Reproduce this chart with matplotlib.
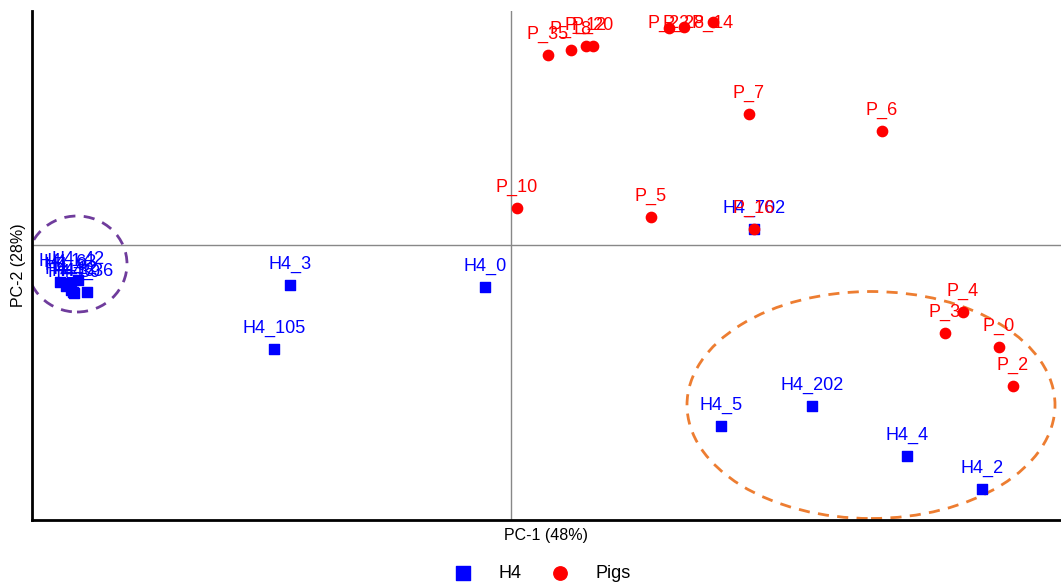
import matplotlib.pyplot as plt
from matplotlib.patches import Ellipse

plt.rcParams['font.family'] = ['Liberation Sans', 'DejaVu Sans']

# PCA scores (PC-1, PC-2)
h4_names = ['H4_1', 'H4_9', 'H4_12', 'H4_39', 'H4_63', 'H4_6', 'H4_36', 'H4_42',
            'H4_3', 'H4_0', 'H4_105', 'H4_702', 'H4_202', 'H4_5', 'H4_4', 'H4_2']
h4_pc1 = [-4.51, -4.45, -4.40, -4.37, -4.41, -4.38, -4.24, -4.33,
          -2.21, -0.26, -2.37, 2.43, 3.01, 2.10, 3.96, 4.71]
h4_pc2 = [-0.37, -0.41, -0.45, -0.48, -0.38, -0.47, -0.47, -0.35,
          -0.40, -0.42, -1.04, 0.16, -1.61, -1.81, -2.11, -2.44]

pig_names = ['P_35', 'P_18', 'P_12', 'P_20', 'P_22', 'P_28', 'P_14', 'P_7', 'P_6',
             'P_10', 'P_5', 'P_16', 'P_4', 'P_3', 'P_0', 'P_2']
pig_pc1 = [0.37, 0.60, 0.75, 0.82, 1.58, 1.73, 2.02, 2.38, 3.71,
           0.06, 1.40, 2.43, 4.52, 4.34, 4.88, 5.02]
pig_pc2 = [1.90, 1.95, 1.99, 1.99, 2.17, 2.18, 2.23, 1.31, 1.14,
           0.37, 0.28, 0.16, -0.67, -0.88, -1.02, -1.41]

y_lo, y_hi = -2.75, 2.34
lab_dy = 0.21
lab_top = y_hi - 0.12  # keep labels inside the panel

fig, ax = plt.subplots(figsize=(10.61, 5.87), dpi=100)
fig.subplots_adjust(left=32/1061, right=1.0, bottom=67/587, top=576/587)

ax.axhline(0, color='#888888', lw=1, zorder=1)
ax.axvline(0, color='#888888', lw=1, zorder=1)

ax.scatter(h4_pc1, h4_pc2, marker='s', s=55, color='#0000ff', label='H4', zorder=3)
ax.scatter(pig_pc1, pig_pc2, marker='o', s=55, color='#ff0000', label='Pigs', zorder=3)

for n, x, y in zip(h4_names, h4_pc1, h4_pc2):
    ax.text(x, min(y + lab_dy, lab_top), n, ha='center', va='center',
            color='#0000ff', fontsize=13)
for n, x, y in zip(pig_names, pig_pc1, pig_pc2):
    ax.text(x, min(y + lab_dy, lab_top), n, ha='center', va='center',
            color='#ff0000', fontsize=13)

ax.add_patch(Ellipse((-4.34, -0.19), 1.00, 0.96, fill=False, ls=(0, (4, 3)),
                     lw=2, color='#6f3c9c', zorder=2))
ax.add_patch(Ellipse((3.60, -1.60), 3.68, 2.27, fill=False, ls=(0, (4, 3)),
                     lw=2, color='#ed7d31', zorder=2))

ax.set_xlim(-4.79, 5.50)
ax.set_ylim(y_lo, y_hi)
ax.set_xticks([])
ax.set_yticks([])
for s in ['top', 'right']:
    ax.spines[s].set_visible(False)
for s in ['left', 'bottom']:
    ax.spines[s].set_linewidth(2)
ax.set_xlabel('PC-1 (48%)', fontsize=11.5, labelpad=6)
ax.set_ylabel('PC-2 (28%)', fontsize=11.5, labelpad=4)

fig.legend(loc='center', bbox_to_anchor=(538/1061, 1 - 573/587), ncol=2,
           frameon=False, fontsize=13, handletextpad=1.0, columnspacing=1.1,
           markerscale=1.3)

fig.savefig('out.png', dpi=100)
